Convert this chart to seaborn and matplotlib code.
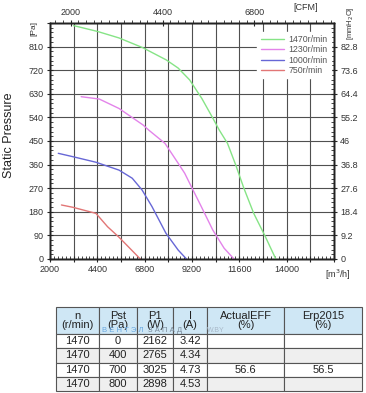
import numpy as np
import pandas as pd
import matplotlib
matplotlib.use("Agg")
import matplotlib.pyplot as plt
import seaborn as sns
from matplotlib.ticker import MultipleLocator, FixedLocator

# fan curves (airflow m3/h, static pressure Pa)
flow_1470 = [3200, 4400, 5500, 6700, 7900, 8500, 9080, 9700, 10250, 10580, 11000, 11420, 11830, 12330, 12920, 13450]
ps_1470 = [890, 868, 843, 806, 759, 728, 683, 612, 538, 492, 441, 358, 270, 174, 85, 0]
flow_1230 = [3580, 4500, 5500, 6720, 7000, 7830, 8500, 8830, 9080, 9670, 10250, 10830, 11330]
ps_1230 = [619, 610, 574, 511, 492, 441, 365, 327, 289, 200, 111, 41, 0]
flow_1000 = [2420, 3170, 4330, 5500, 6170, 6670, 7170, 7880, 8500, 8920]
ps_1000 = [403, 390, 369, 339, 308, 263, 200, 98, 34, 0]
flow_750 = [2580, 3170, 4330, 4920, 5500, 6580]
ps_750 = [206, 197, 174, 123, 83, 0]

speed_labels = ["1470r/min", "1230r/min", "1000r/min", "750r/min"]
speed_colors = ["#86e486", "#e383ea", "#6767d6", "#e27676"]

x_ticks = [2000, 3200, 4400, 5600, 6800, 8000, 9200, 10400, 11600, 12800, 14000, 15200, 16400]
x_labels = ["2000", "", "4400", "", "6800", "", "9200", "", "11600", "", "14000", "", ""]
pa_ticks = [0, 90, 180, 270, 360, 450, 540, 630, 720, 810]
mm_ticks = [0, 9.2, 18.4, 27.6, 36.8, 46, 55.2, 64.4, 73.6, 82.8]
mm_labels = ["0", "9.2", "18.4", "27.6", "36.8", "46", "55.2", "64.4", "73.6", "82.8"]
cfm_ticks = [2000, 4400, 6800]

# performance table
col_labels = ["n\n(r/min)", "Pst\n(Pa)", "P1\n(W)", "I\n(A)", "ActualEFF\n(%)", "Erp2015\n(%)"]
table_rows = [
    ["1470", "0", "2162", "3.42", "", ""],
    ["1470", "400", "2765", "4.34", "", ""],
    ["1470", "700", "3025", "4.73", "56.6", "56.5"],
    ["1470", "800", "2898", "4.53", "", ""],
]
col_widths = [43, 38, 36, 34, 77, 78]

curves = pd.concat([
    pd.DataFrame({"flow": f, "pst": p, "speed": s})
    for f, p, s in [(flow_1470, ps_1470, speed_labels[0]),
                    (flow_1230, ps_1230, speed_labels[1]),
                    (flow_1000, ps_1000, speed_labels[2]),
                    (flow_750, ps_750, speed_labels[3])]
])

sns.set_style("white")
plt.rcParams["font.family"] = ["Liberation Sans", "DejaVu Sans"]
txt = "#333333"

W, H = 366, 393
fig = plt.figure(figsize=(W / 100, H / 100), dpi=100)
ax = fig.add_axes([50 / W, 1 - 259 / H, 284 / W, 236 / H])

sns.lineplot(data=curves, x="flow", y="pst", hue="speed", palette=speed_colors,
             hue_order=speed_labels, sort=False, estimator=None, linewidth=1.0,
             ax=ax, legend=False, zorder=3)

ax.set_xlim(2000, 16400)
ax.set_ylim(0, 900)
ax.set_xlabel("")
ax.set_ylabel("")
ax.xaxis.set_major_locator(FixedLocator(x_ticks))
ax.set_xticklabels(x_labels)
ax.xaxis.set_minor_locator(MultipleLocator(200))
ax.yaxis.set_major_locator(FixedLocator(pa_ticks + [900]))
ax.set_yticklabels([str(v) for v in pa_ticks] + [""])
ax.yaxis.set_minor_locator(MultipleLocator(18))
ax.grid(True, which="major", color="#505050", linewidth=0.8)
ax.tick_params(which="major", direction="inout", length=5, width=0.8,
               labelsize=6.5, labelcolor=txt, pad=2)
ax.tick_params(which="minor", direction="in", length=2.5, width=0.6,
               bottom=True, left=True)
for sp in ax.spines.values():
    sp.set_color("#222222")
    sp.set_linewidth(1.0)

# right axis in mmH2O
axr = ax.twinx()
axr.set_ylim(0, 92)
axr.yaxis.set_major_locator(FixedLocator(mm_ticks))
axr.set_yticklabels(mm_labels)
axr.yaxis.set_minor_locator(MultipleLocator(1.84))
axr.tick_params(which="major", direction="inout", length=5, width=0.8,
                labelsize=6.5, labelcolor=txt, pad=2)
axr.tick_params(which="minor", direction="in", length=2.5, width=0.6, right=True)
axr.grid(False)

# top axis in CFM (offset scale as printed on the chart)
axt = ax.twiny()
cfm_lo = 2000 + (2000 - 3050) / 1.94
cfm_hi = 2000 + (16400 - 3050) / 1.94
axt.set_xlim(cfm_lo, cfm_hi)
axt.xaxis.set_major_locator(FixedLocator(cfm_ticks))
axt.xaxis.set_minor_locator(MultipleLocator(200))
axt.tick_params(which="major", direction="inout", length=5, width=0.8,
                labelsize=6.5, labelcolor=txt, pad=2)
axt.tick_params(which="minor", direction="out", length=2.5, width=0.6, top=True)
axt.grid(False)
for a in (axr, axt):
    for sp in a.spines.values():
        sp.set_color("#222222")
        sp.set_linewidth(1.0)

# legend
handles = [plt.Line2D([], [], color=c, lw=1.0) for c in speed_colors]
leg = axt.legend(handles, speed_labels, loc="upper right", bbox_to_anchor=(1.0, 0.975),
                 fontsize=6.3, frameon=True, handlelength=2.6, handletextpad=0.6,
                 labelspacing=0.15, borderpad=0.4, borderaxespad=0.3)
leg.get_frame().set_facecolor("white")
leg.get_frame().set_edgecolor("white")
leg.get_frame().set_alpha(1.0)
for t in leg.get_texts():
    t.set_color("#555555")

# axis labels
fig.text(9 / W, 1 - 135 / H, "Static Pressure", rotation=90, ha="center", va="center",
         fontsize=9, color="#222222")
fig.text(34 / W, 1 - 29 / H, "[Pa]", rotation=90, ha="center", va="center",
         fontsize=6, color=txt)
fig.text(351 / W, 1 - 23 / H, "[mmH$_2$O]", rotation=90, ha="center", va="center",
         fontsize=5.5, color=txt)
fig.text(306 / W, 1 - 8 / H, "[CFM]", ha="center", va="center", fontsize=6.5, color=txt)
fig.text(338 / W, 1 - 275 / H, "[m$^3$/h]", ha="center", va="center", fontsize=6.5, color=txt)

# table
axtab = fig.add_axes([56 / W, 2 / H, 306 / W, 84 / H])
axtab.axis("off")
tbl = axtab.table(cellText=table_rows, colLabels=col_labels,
                  colWidths=[w / sum(col_widths) for w in col_widths],
                  cellLoc="center", bbox=[0, 0, 1, 1])
tbl.auto_set_font_size(False)
tbl.set_fontsize(8)
row_fill = ["white", "#efefef", "white", "#efefef"]
for (r, c), cell in tbl.get_celld().items():
    cell.set_edgecolor("#555555")
    cell.set_linewidth(0.8)
    cell.get_text().set_color("#222222")
    if r == 0:
        cell.set_height(27)
        cell.set_facecolor("#cfe7f5")
        cell.get_text().set_linespacing(0.95)
    else:
        cell.set_height(14.25)
        cell.set_facecolor(row_fill[r - 1])

# faint watermark inside the header row
fig.text(102 / W, 1 - 330 / H, "В Е Н Т Э Л", fontsize=5.5, color="#6aa8e0", va="center")
fig.text(148 / W, 1 - 330 / H, "З А П А Д", fontsize=5.5, color="#7a8a9a", va="center")
fig.text(207 / W, 1 - 330 / H, "W.BY", fontsize=5, color="#a8b8c8", va="center")

fig.savefig("out.png", dpi=100)
